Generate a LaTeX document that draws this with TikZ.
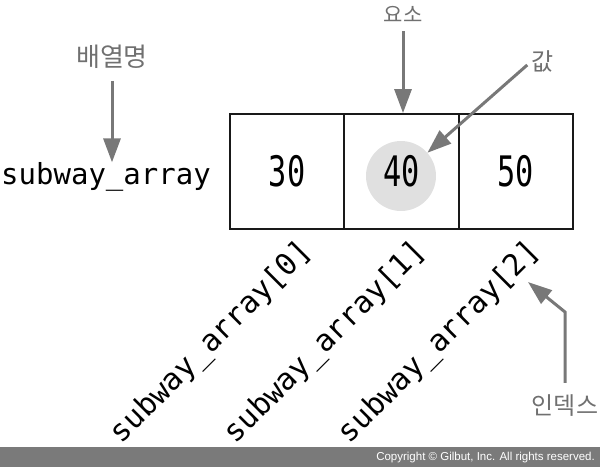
\documentclass[tikz,border=0pt]{standalone}
\usepackage{fontspec}
\usepackage{graphicx}
\newfontfamily\monof{DejaVu Sans Mono}
\newfontfamily\krf{Noto Sans CJK KR}
\newfontfamily\arialf{Liberation Sans}
\usetikzlibrary{arrows.meta}
\definecolor{arrowgray}{HTML}{787878}
\definecolor{textgray}{HTML}{707070}
\definecolor{hlgray}{HTML}{E0E0E0}
\definecolor{bargray}{HTML}{7A7A7A}
\begin{document}
\begin{tikzpicture}[x=1pt,y=-1pt,
  cellbox/.style={draw=black!90,line width=1.8pt,minimum width=114.3pt,minimum height=115pt,inner sep=0pt,
    font=\monof\fontsize{42}{44}\selectfont},
  krlabel/.style={text=textgray,font=\krf\fontsize{24}{26}\selectfont,inner sep=0pt},
  idxlabel/.style={rotate=45,font=\monof\fontsize{30}{32}\selectfont,inner sep=0pt},
  pointer/.style={draw=arrowgray,line width=3pt,-{Triangle[length=24pt,width=17pt]}}]
\useasboundingbox (0,0) rectangle (600,467);
% highlight circle behind 40
\node[circle,fill=hlgray,minimum size=70pt,inner sep=0pt] (hl) at (401,176) {};
% cells
\node[cellbox] (c0) at (287.15,171.5) {\scalebox{0.72}[1]{30}};
\node[cellbox] (c1) at (401.45,171.5) {\scalebox{0.72}[1]{40}};
\node[cellbox] (c2) at (515.75,171.5) {\scalebox{0.72}[1]{50}};
% array name
\node[font=\monof\fontsize{29}{31}\selectfont,inner sep=0pt] (name) at (106,177) {subway\_array};
% index labels
\node[idxlabel] (i0) at (212,343) {subway\_array[0]};
\node[idxlabel] (i1) at (326,343) {subway\_array[1]};
\node[idxlabel] (i2) at (440,343) {subway\_array[2]};
% Korean labels
\node[krlabel,font=\krf\fontsize{26}{28}\selectfont] (kname) at (112,57) {배열명};
\node[krlabel,font=\krf\fontsize{21}{23}\selectfont] (kelem) at (403,14) {요소};
\node[krlabel] (kval) at (543,61) {값};
\node[krlabel] (kidx) at (565,406) {인덱스};
% arrows
\draw[pointer,shorten <=12pt] (kname.south) -- (kname.south |- name.north);
\draw[pointer,shorten <=9pt] (kelem.south) -- (kelem.south |- c1.north);
\draw[pointer,shorten <=6pt] (kval.west) -- (hl);
\coordinate (bend) at (565,312);
\coordinate (idxtip) at (528,282);
\draw[pointer,shorten <=12pt] (kidx.north) -- (bend) -- (idxtip);
% copyright bar
\fill[bargray] (0,447) rectangle (600,467);
\node[anchor=east,text=white,font=\arialf\fontsize{11.5}{13}\selectfont,inner sep=0pt] (copy) at (595,457.5) {Copyright © Gilbut, Inc. All rights reserved.};
\end{tikzpicture}
\end{document}
